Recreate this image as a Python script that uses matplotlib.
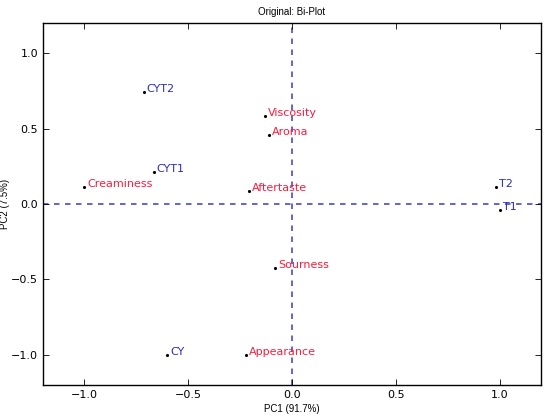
import matplotlib
matplotlib.use("Agg")
import matplotlib.pyplot as plt

# sample scores (blue) and variable loadings (red)
sample_names = ["CYT2", "CYT1", "CY", "T2", "T1"]
sample_pc1 = [-0.715, -0.667, -0.60, 0.98, 1.0]
sample_pc2 = [0.741, 0.21, -1.0, 0.11, -0.038]

var_names = ["Viscosity", "Aroma", "Creaminess", "Aftertaste", "Sourness", "Appearance"]
var_pc1 = [-0.13, -0.113, -1.0, -0.206, -0.082, -0.222]
var_pc2 = [0.58, 0.46, 0.115, 0.084, -0.425, -1.0]

fig = plt.figure(figsize=(5.5, 4.16), dpi=100)
ax = fig.add_axes([0.078, 0.0745, 0.906, 0.8705])

ax.axhline(0, color="#3a3ac4", linestyle=(0, (3.6, 3.6)), linewidth=1.1, zorder=1)
ax.axvline(0, color="#3a3ac4", linestyle=(0, (3.6, 3.6)), linewidth=1.1, zorder=1)

ax.plot(sample_pc1, sample_pc2, ".", color="black", markersize=2.5, zorder=3)
ax.plot(var_pc1, var_pc2, ".", color="black", markersize=2.5, zorder=3)

for name, x, y in zip(sample_names, sample_pc1, sample_pc2):
    ax.text(x + 0.015, y, name, color="#2b2bbf", fontsize=8, va="baseline")
for name, x, y in zip(var_names, var_pc1, var_pc2):
    ax.text(x + 0.015, y, name, color="#ff1a3c", fontsize=8, va="baseline")

ax.set_xlim(-1.2, 1.2)
ax.set_ylim(-1.2, 1.2)
ax.set_xticks([-1.0, -0.5, 0.0, 0.5, 1.0])
ax.set_yticks([-1.0, -0.5, 0.0, 0.5, 1.0])
ax.tick_params(direction="in", top=True, right=True, labelsize=8, length=4, width=0.6)
for s in ax.spines.values():
    s.set_linewidth(1.0)

ax.set_title("Original: Bi-Plot", fontsize=7, family="Liberation Sans", pad=6)
ax.set_xlabel("PC1 (91.7%)", fontsize=7, family="Liberation Sans", labelpad=3)
ax.set_ylabel("PC2 (7.5%)", fontsize=7, family="Liberation Sans")
ax.yaxis.set_label_coords(-0.066, 0.5)

fig.savefig("out.png", dpi=100)
